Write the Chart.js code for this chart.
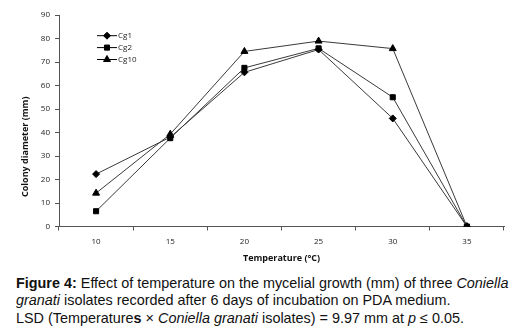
<!DOCTYPE html>
<html>
<head>
<meta charset="utf-8">
<script src="https://cdn.jsdelivr.net/npm/chart.js@4.4.1/dist/chart.umd.min.js"></script>
<style>
  body { margin: 0; background: #fff; width: 529px; height: 335px; overflow: hidden; }
  #wrap { position: relative; width: 529px; height: 268px; }
  #caption {
    font-family: "Liberation Sans", Arial, sans-serif;
    font-size: 14.4px;
    line-height: 17.3px;
    color: #111;
    margin: 7px 0 0 16px;
    white-space: nowrap;
  }
</style>
</head>
<body>
<div id="wrap"><canvas id="chart"></canvas></div>
<div id="caption">
  <b>Figure 4:</b> Effect of temperature on the mycelial growth (mm) of three <i>Coniella</i><br>
  <i>granati</i> isolates recorded after 6 days of incubation on PDA medium.<br>
  LSD (Temperature<b>s</b> × <i>Coniella granati</i> isolates) = 9.97 mm at <i>p</i> ≤ 0.05.
</div>
<script>
"use strict";

let temperatures = ['10', '15', '20', '25', '30', '35'];
let cg1 = [22.3, 38, 65.6, 75.3, 46, 0];
let cg2 = [6.5, 37.6, 67.5, 75.8, 55, 0];
let cg10 = [14.2, 39.3, 74.5, 78.9, 75.7, 0];
let seriesNames = ['Cg1', 'Cg2', 'Cg10'];
let markers = ['rectRot', 'rect', 'triangle'];
let markerSizes = [3.5, 3.6, 4];

let fontFamily = '"Open Sans", "Liberation Sans", sans-serif';

function makeSet(i, values) {
  return {
    label: seriesNames[i],
    data: values,
    borderColor: '#3a3a3a',
    borderWidth: 1,
    pointStyle: markers[i],
    pointRadius: markerSizes[i],
    pointBackgroundColor: '#000',
    pointBorderColor: '#000',
    pointBorderWidth: 1,
    fill: false,
    tension: 0
  };
}

// legend inside the plot (line + marker) and the y title, which sits a bit low in the original
let extras = {
  id: 'extras',
  afterDraw(chart) {
    let ctx = chart.ctx;
    let area = chart.chartArea;
    ctx.save();
    chart.data.datasets.forEach(function (ds, i) {
      let y = area.top + 20.7 + i * 11.9;
      let x1 = area.left + 38;
      let x2 = area.left + 58;
      ctx.strokeStyle = '#000';
      ctx.lineWidth = 1;
      ctx.beginPath();
      ctx.moveTo(x1, y);
      ctx.lineTo(x2, y);
      ctx.stroke();
      ctx.fillStyle = '#000';
      Chart.helpers.drawPoint(ctx, {
        pointStyle: ds.pointStyle,
        radius: ds.pointRadius,
        borderWidth: 1
      }, (x1 + x2) / 2, y);
      ctx.fillStyle = '#222';
      ctx.font = '8px ' + fontFamily;
      ctx.textBaseline = 'middle';
      ctx.textAlign = 'left';
      ctx.fillText(ds.label, x2 + 1, y);
    });

    ctx.translate(25, (area.top + area.bottom) / 2 + 26);
    ctx.rotate(-Math.PI / 2);
    ctx.fillStyle = '#111';
    ctx.font = 'bold 9px ' + fontFamily;
    ctx.textAlign = 'center';
    ctx.textBaseline = 'middle';
    ctx.fillText('Colony diameter (mm)', 0, 0);
    ctx.restore();
  }
};

let config = {
  type: 'line',
  data: {
    labels: temperatures,
    datasets: [makeSet(0, cg1), makeSet(1, cg2), makeSet(2, cg10)]
  },
  options: {
    responsive: true,
    maintainAspectRatio: false,
    animation: false,
    layout: { padding: { top: 15, right: 25, left: 0, bottom: 0 } },
    plugins: {
      legend: { display: false },
      tooltip: { enabled: false }
    },
    scales: {
      x: {
        type: 'category',
        offset: true,
        grid: {
          offset: true,
          drawOnChartArea: false,
          drawTicks: true,
          tickLength: 4,
          color: '#555'
        },
        border: { display: true, color: '#555', width: 1 },
        ticks: {
          color: '#222',
          font: { family: fontFamily, size: 8 },
          padding: 6,
          maxRotation: 0
        },
        title: {
          display: true,
          text: 'Temperature (°C)',
          color: '#111',
          font: { family: fontFamily, size: 9, weight: 'bold' },
          padding: { top: 11 }
        },
        afterFit(scale) { scale.height = 41.5; }
      },
      y: {
        min: 0,
        max: 90,
        ticks: {
          stepSize: 10,
          color: '#222',
          font: { family: fontFamily, size: 8 },
          padding: 5
        },
        grid: {
          drawOnChartArea: false,
          drawTicks: true,
          tickLength: 4,
          color: '#555'
        },
        border: { display: true, color: '#555', width: 1 },
        afterFit(scale) { scale.width = 59; }
      }
    }
  },
  plugins: [extras]
};

let myChart = new Chart(document.getElementById('chart'), config);
</script>
</body>
</html>
